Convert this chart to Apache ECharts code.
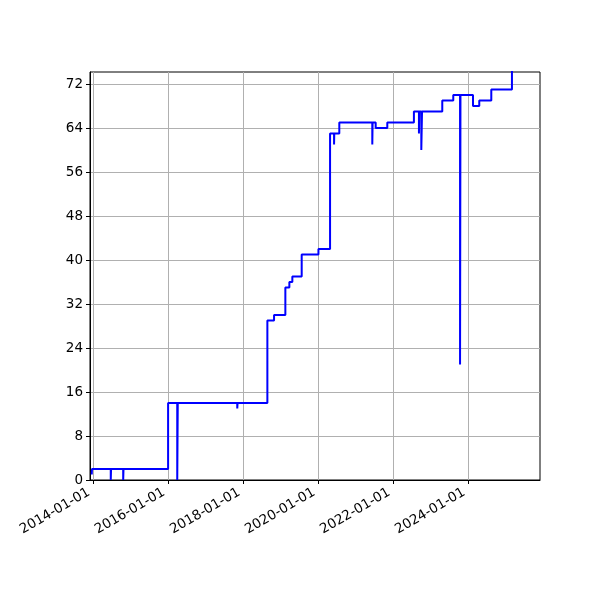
<!DOCTYPE html>
<html>
<head>
<meta charset="utf-8">
<script src="https://cdn.jsdelivr.net/npm/echarts@6/dist/echarts.min.js"></script>
<style>html,body{margin:0;padding:0;background:#fff}#c{width:600px;height:600px}</style>
</head>
<body>
<div id="c"></div>
<script>
const dates = [
  '2013-12-17','2013-12-19','2014-06-20','2014-06-23','2014-10-19','2014-10-22',
  '2015-12-30','2016-03-28','2016-04-02','2017-11-02','2017-11-05','2018-08-22',
  '2018-10-26','2019-02-13','2019-03-24','2019-04-22','2019-07-22','2020-01-01',
  '2020-04-23','2020-06-01','2020-06-03','2020-07-22','2021-06-08','2021-06-11',
  '2021-07-11','2021-11-01','2022-07-18','2022-09-05','2022-09-08','2022-09-28',
  '2022-10-05','2023-04-20','2023-08-05','2023-10-10','2023-10-14','2024-02-13',
  '2024-04-14','2024-08-09','2025-02-26'
];
const values = [
  1, 2, 0, 2, 0, 2,
  14, 0, 14, 13, 14, 29,
  30, 35, 36, 37, 41, 42,
  63, 61, 63, 65, 61, 65,
  64, 65, 67, 63, 67, 60,
  67, 69, 70, 21, 70, 68,
  69, 71, 76
];
const xTickLabels = ['2014-01-01','2016-01-01','2018-01-01','2020-01-01','2022-01-01','2024-01-01'];
const yTicks = [0, 8, 16, 24, 32, 40, 48, 56, 64, 72];

const ts = s => Date.parse(s + 'T00:00:00Z');
const seriesData = dates.map((d, i) => [ts(d), values[i]]);
const xTickVals = xTickLabels.map(ts);
const pad = n => (n < 10 ? '0' : '') + n;
const fmtDate = v => { const d = new Date(v); return d.getUTCFullYear() + '-' + pad(d.getUTCMonth() + 1) + '-' + pad(d.getUTCDate()); };

const chart = echarts.init(document.getElementById('c'), null, {renderer: 'canvas'});
chart.setOption({
  animation: false,
  backgroundColor: '#fff',
  grid: {left: 90, right: 60, top: 72, bottom: 120, show: true, borderColor: '#000', borderWidth: 1, backgroundColor: 'transparent'},
  xAxis: {
    type: 'value',
    scale: true,
    min: ts('2013-11-30'),
    max: ts('2025-11-26'),
    axisLine: {show: true, onZero: false, lineStyle: {color: '#000', width: 1}},
    axisTick: {show: true, length: 4, lineStyle: {color: '#000', width: 1}, customValues: xTickVals},
    splitLine: {show: true, lineStyle: {color: '#b0b0b0', width: 1}},
    axisLabel: {
      customValues: xTickVals,
      rotate: 30,
      color: '#000',
      fontFamily: 'DejaVu Sans',
      fontSize: 13.5,
      margin: 9,
      padding: [6, 5, 0, 0],
      hideOverlap: false,
      showMinLabel: true,
      showMaxLabel: true,
      formatter: v => fmtDate(v)
    }
  },
  yAxis: {
    type: 'value',
    min: 0,
    max: 74.2,
    interval: 8,
    axisLine: {show: true, lineStyle: {color: '#000', width: 1}},
    axisTick: {show: true, length: 4, lineStyle: {color: '#000', width: 1}, customValues: yTicks},
    splitLine: {show: true, lineStyle: {color: '#b0b0b0', width: 1}},
    axisLabel: {customValues: yTicks, color: '#000', fontFamily: 'DejaVu Sans', fontSize: 13.5, margin: 7}
  },
  series: [{
    type: 'line',
    step: 'end',
    data: seriesData,
    showSymbol: false,
    symbol: 'none',
    clip: true,
    lineStyle: {color: '#0000ff', width: 2},
    itemStyle: {color: '#0000ff'}
  }]
});
</script>
</body>
</html>
